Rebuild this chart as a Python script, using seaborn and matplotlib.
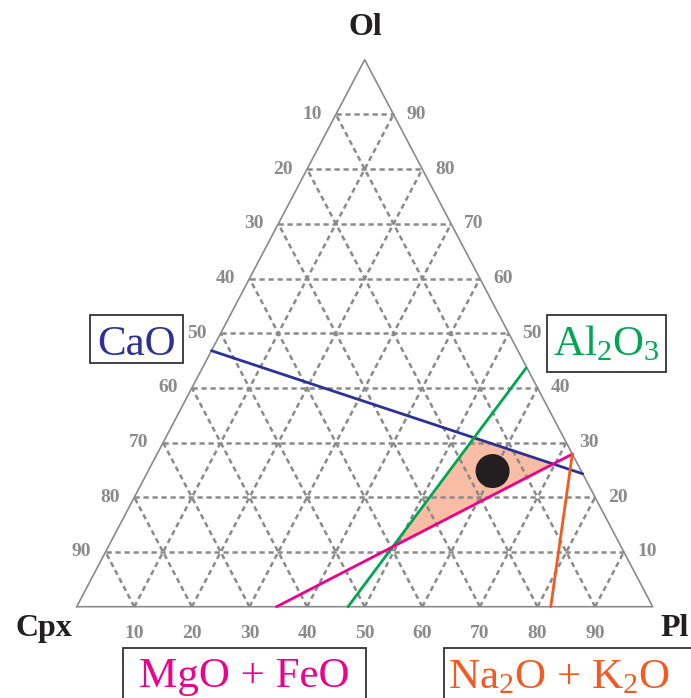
import numpy as np
import pandas as pd
import matplotlib
matplotlib.use("Agg")
import matplotlib.pyplot as plt
from matplotlib.patches import Polygon, Rectangle
import seaborn as sns

# ---------------- data (percent; Cpx = 100 - Ol - Pl) ----------------
grid_steps = [10, 20, 30, 40, 50, 60, 70, 80, 90]
left_tick_labels = ["90", "80", "70", "60", "50", "40", "30", "20", "10"]   # at Ol = 10..90
right_tick_labels = ["10", "20", "30", "40", "50", "60", "70", "80", "90"]  # at Ol = 10..90
bottom_tick_labels = ["10", "20", "30", "40", "50", "60", "70", "80", "90"] # at Pl = 10..90

cao_ol = [46.8, 24.3]
cao_pl = [0.0, 75.7]
al2o3_ol = [0.0, 43.6]
al2o3_pl = [47.1, 56.2]
mgofeo_ol = [0.0, 27.9]
mgofeo_pl = [34.7, 72.1]
alk_ol = [0.0, 27.9]
alk_pl = [82.3, 72.1]
sample_ol = [24.8]
sample_pl = [59.8]

apex_names = ["Ol", "Cpx", "Pl"]
oxide_names = ["CaO", r"Al$_\mathrm{2}$O$_\mathrm{3}$", "MgO + FeO",
               r"Na$_\mathrm{2}$O + K$_\mathrm{2}$O"]

# ---------------- style ----------------
sns.set_style("white")
plt.rcParams["font.family"] = ["Liberation Serif", "DejaVu Serif"]
plt.rcParams["mathtext.fontset"] = "custom"
plt.rcParams["mathtext.rm"] = "Liberation Serif"
plt.rcParams["mathtext.it"] = "Liberation Serif:italic"
plt.rcParams["mathtext.bf"] = "Liberation Serif:bold"

BLUE = "#2e3192"
GREEN = "#00a651"
MAGENTA = "#ec008c"
ORANGE = "#f15a22"
FILL = "#f9bda5"
GRID = "#8a8a8a"
TICK = "#8a8a8a"
DARK = "#231f20"

W, H = 691, 698
X0, XB, Y0, HT = 76.7, 576.0, 606.7, 547.0   # pixel frame of the triangle

fig = plt.figure(figsize=(W / 100, H / 100), dpi=100)
ax = fig.add_axes([0, 0, 1, 1])


def tern(ol, pl):
    ol = np.asarray(ol, float) / 100.0
    pl = np.asarray(pl, float) / 100.0
    return pl + ol / 2.0, ol


def px(xp, yp):
    return (xp - X0) / XB, (Y0 - yp) / HT


# ---------------- shaded field (intersection of three lines) ----------------
def inter(l1, l2):
    (x1, y1), (x2, y2) = l1
    (x3, y3), (x4, y4) = l2
    d = (x1 - x2) * (y3 - y4) - (y1 - y2) * (x3 - x4)
    t = ((x1 - x3) * (y3 - y4) - (y1 - y3) * (x3 - x4)) / d
    return x1 + t * (x2 - x1), y1 + t * (y2 - y1)


def seg(ol, pl):
    x, y = tern(ol, pl)
    return [(x[0], y[0]), (x[1], y[1])]


L_cao, L_al, L_mg = seg(cao_ol, cao_pl), seg(al2o3_ol, al2o3_pl), seg(mgofeo_ol, mgofeo_pl)
poly = [inter(L_al, L_cao), inter(L_cao, L_mg), inter(L_mg, L_al)]
ax.add_patch(Polygon(poly, closed=True, facecolor=FILL, edgecolor="none", zorder=0.5))

# ---------------- grid ----------------
for k in grid_steps:
    segs = [tern([k, k], [0, 100 - k]),
            tern([0, 100 - k], [k, k]),
            tern([0, 100 - k], [100 - k, 0])]
    for xs, ys in segs:
        ax.plot(xs, ys, color=GRID, lw=1.8, dashes=(2.1, 1.5), zorder=1,
                dash_capstyle="butt")

# triangle outline
tx, ty = tern([0, 0, 100, 0], [0, 100, 0, 0])
ax.plot(tx, ty, color="#8a8a8a", lw=1.2, zorder=2)

# ---------------- tick labels ----------------
tick_kw = dict(fontsize=14, fontweight="bold", color=TICK, ha="center", va="center")
for k, lab in zip(grid_steps, left_tick_labels):
    x, y = tern(k, 0)
    ax.text(x - 24 / XB, y, lab, **tick_kw)
for k, lab in zip(grid_steps, right_tick_labels):
    x, y = tern(k, 100 - k)
    ax.text(x + 23 / XB, y, lab, **tick_kw)
for k, lab in zip(grid_steps, bottom_tick_labels):
    x, y = tern(0, k)
    ax.text(x, y - 27 / HT, lab, **tick_kw)

# ---------------- compositional lines ----------------
for ol, pl, col in [(cao_ol, cao_pl, BLUE), (al2o3_ol, al2o3_pl, GREEN),
                    (mgofeo_ol, mgofeo_pl, MAGENTA), (alk_ol, alk_pl, ORANGE)]:
    xs, ys = tern(ol, pl)
    df = pd.DataFrame({"x": xs, "y": ys})
    sns.lineplot(data=df, x="x", y="y", sort=False, estimator=None, color=col,
                 lw=2.0, ax=ax, zorder=3)

sx, sy = tern(sample_ol, sample_pl)
sns.scatterplot(x=sx, y=sy, s=600, color=DARK, edgecolor="none", ax=ax, zorder=5)
ax.set_xlim(-X0 / XB, (W - X0) / XB)
ax.set_ylim((Y0 - H) / HT, Y0 / HT)
ax.set_axis_off()

# ---------------- apex labels ----------------
apex_kw = dict(fontsize=23, fontweight="bold", color=DARK, va="baseline")
ax.text(*px(365, 35), apex_names[0], ha="center", **apex_kw)
ax.text(*px(44, 636), apex_names[1], ha="center", **apex_kw)
ax.text(*px(689, 636), apex_names[2], ha="right", **apex_kw)

# ---------------- oxide label boxes ----------------
boxes = [(90, 315, 182.7, 363.3), (546.7, 315, 665.7, 371.7),
         (122.7, 648.3, 365.7, 720), (444, 648.3, 720, 720)]
for (x0, y0, x1, y1) in boxes:
    bx, by = px(x0, y1)
    ax.add_patch(Rectangle((bx, by), (x1 - x0) / XB, (y1 - y0) / HT, fill=False,
                           edgecolor="#333333", lw=1.3, zorder=6, clip_on=False))

lab_kw = dict(fontsize=31, va="baseline", zorder=7)
ax.text(*px(136.4, 355), oxide_names[0], ha="center", color=BLUE, **lab_kw)
ax.text(*px(606, 355), oxide_names[1], ha="center", color=GREEN, **lab_kw)
ax.text(*px(244.3, 686.7), oxide_names[2], ha="center", color=MAGENTA, **lab_kw)
ax.text(*px(448.3, 688), oxide_names[3], ha="left", color=ORANGE, **lab_kw)

fig.savefig("out.png", dpi=100)
